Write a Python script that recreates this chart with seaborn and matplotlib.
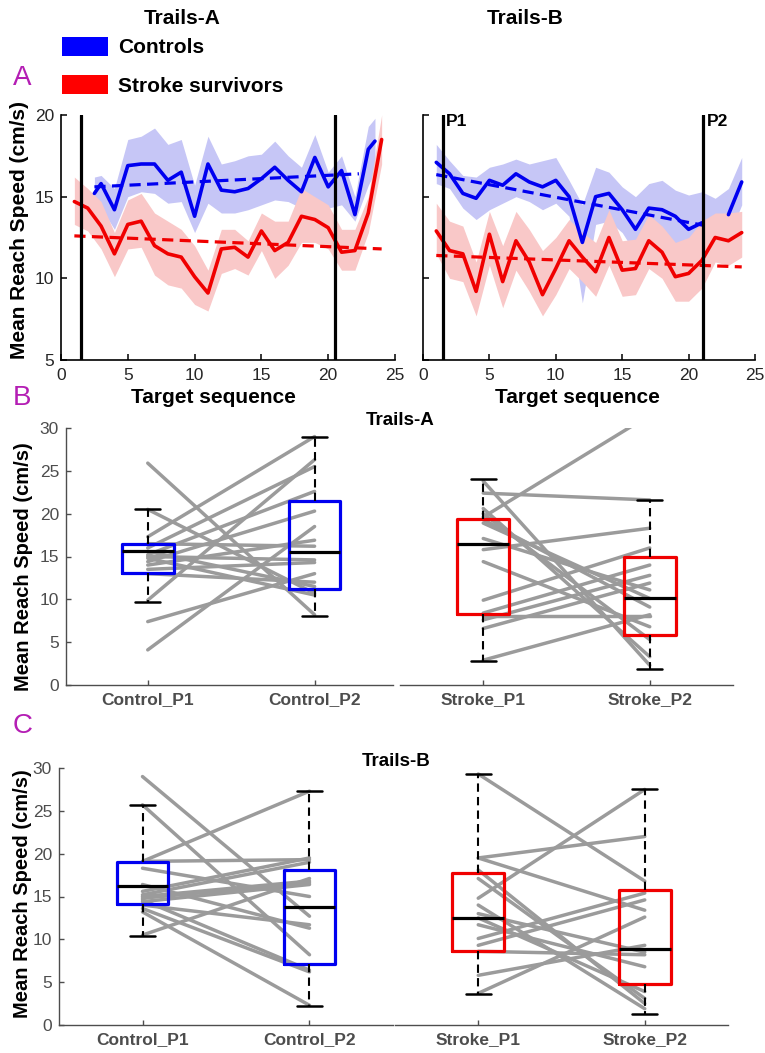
import numpy as np
import pandas as pd
import matplotlib
matplotlib.use("Agg")
import matplotlib.pyplot as plt
import seaborn as sns
from matplotlib.patches import Patch

# ---------------- Panel A data: Trails-A ----------------
ta_ctrl_x = [2.5, 3, 4, 5, 6, 7, 8, 9, 10, 11, 12, 13, 14, 15, 16, 17, 18, 19, 20, 21, 22, 23, 23.5]
ta_ctrl_mean = [15.2, 15.8, 14.2, 16.9, 17.0, 17.0, 16.0, 16.5, 13.8, 17.0, 15.4, 15.3, 15.5, 16.1,
                16.8, 16.0, 15.3, 17.4, 15.6, 16.6, 13.9, 17.9, 18.4]
ta_ctrl_hi = [16.2, 16.3, 15.5, 18.5, 18.7, 19.2, 18.2, 18.5, 15.7, 18.7, 17.0, 17.2, 17.5, 17.6,
              18.4, 17.5, 16.8, 18.8, 16.5, 17.5, 15.0, 19.3, 19.8]
ta_ctrl_lo = [14.6, 14.3, 13.0, 15.0, 15.3, 15.2, 14.6, 14.7, 12.8, 14.6, 14.0, 14.0, 14.2, 14.5,
              14.8, 14.7, 14.3, 14.8, 14.3, 14.5, 13.5, 15.7, 16.5]
ta_ctrl_trend_x = [2.5, 22.3]
ta_ctrl_trend_y = [15.6, 16.4]

ta_str_x = list(range(1, 25))
ta_str_mean = [14.7, 14.3, 13.2, 11.5, 13.3, 13.5, 12.0, 11.5, 11.3, 10.1, 9.1, 11.8, 11.9, 11.3,
               12.9, 11.7, 12.2, 13.8, 13.6, 13.1, 11.6, 11.7, 14.0, 18.5]
ta_str_hi = [16.2, 15.5, 14.7, 12.8, 14.8, 15.2, 14.0, 13.5, 13.0, 12.0, 10.5, 13.0, 13.0, 12.3,
             14.0, 13.5, 13.5, 15.5, 15.0, 14.5, 13.0, 13.0, 15.0, 20.0]
ta_str_lo = [13.3, 12.9, 11.8, 10.1, 11.8, 11.9, 10.2, 9.6, 9.4, 8.4, 8.0, 10.3, 10.6, 10.2,
             11.7, 10.0, 10.8, 12.2, 12.2, 11.8, 10.5, 10.5, 12.8, 17.0]
ta_str_trend_x = [1, 24]
ta_str_trend_y = [12.6, 11.8]
ta_markers = [1.5, 20.5]

# ---------------- Panel A data: Trails-B ----------------
tb_x = list(range(1, 25))
tb_ctrl_mean = [17.1, 16.4, 15.2, 14.9, 16.0, 15.7, 16.4, 15.9, 15.6, 16.0, 15.0, 12.2, 15.0, 15.2,
                14.2, 13.0, 14.3, 14.2, 13.8, 13.0, 13.4, np.nan, 13.9, 15.9]
tb_ctrl_hi = [18.2, 17.2, 16.3, 16.2, 16.8, 17.0, 17.3, 17.0, 17.2, 17.4, 16.0, 14.5, 16.8, 16.5,
              15.6, 15.0, 15.8, 16.0, 15.4, 15.1, 15.3, 14.9, 15.5, 17.4]
tb_ctrl_lo = [15.8, 15.5, 14.3, 13.6, 14.2, 14.6, 15.0, 14.7, 14.2, 14.6, 13.8, 8.5, 13.3, 13.5,
              12.8, 11.5, 12.6, 12.6, 12.0, 11.8, 12.0, 11.8, 12.5, 14.5]
tb_ctrl_trend_x = [1, 21.1]
tb_ctrl_trend_y = [16.35, 13.25]
tb_str_mean = [12.9, 11.7, 11.5, 9.2, 12.7, 9.8, 12.3, 11.0, 9.0, 10.6, 12.3, 11.3, 10.4, 12.5,
               10.5, 10.6, 12.3, 11.6, 10.1, 10.3, 11.1, 12.5, 12.3, 12.8]
tb_str_hi = [14.6, 13.5, 13.2, 11.0, 14.1, 12.0, 14.1, 13.0, 11.7, 12.5, 13.6, 12.8, 12.2, 14.2,
             12.3, 12.4, 13.9, 13.2, 12.2, 12.5, 13.5, 14.0, 14.0, 14.1]
tb_str_lo = [11.5, 10.0, 9.8, 7.7, 10.8, 8.2, 10.5, 9.2, 7.7, 9.0, 10.6, 9.8, 8.9, 10.8,
             8.9, 9.0, 10.6, 10.0, 8.6, 8.6, 9.4, 11.0, 10.8, 11.3]
tb_str_trend_x = [1, 24]
tb_str_trend_y = [11.4, 10.7]
tb_markers = [1.5, 21.1]
marker_labels = ["P1", "P2"]

# ---------------- Panel B data (Trails-A, per subject) ----------------
ctrl_labels = ["Control_P1", "Control_P2"]
str_labels = ["Stroke_P1", "Stroke_P2"]
B_ctrl_p1 = [25.9, 20.5, 17.3, 16.5, 16.0, 15.6, 15.2, 15.0, 14.8, 14.4, 14.0, 13.5, 13.0, 9.9, 7.4, 4.1]
B_ctrl_p2 = [8.2, 10.7, 29.0, 16.2, 25.5, 11.5, 22.6, 14.6, 10.5, 20.3, 16.9, 14.3, 12.0, 26.3, 13.0, 18.5]
B_str_p1 = [23.8, 22.4, 20.6, 20.0, 19.6, 19.3, 18.9, 17.1, 15.8, 14.4, 9.9, 8.4, 8.0, 7.6, 6.6, 2.9]
B_str_p2 = [2.3, 21.6, 3.3, 5.3, 31.5, 9.1, 10.1, 11.1, 18.3, 6.8, 16.0, 14.0, 8.0, 12.8, 11.9, 8.2]
# box stats: [whislo, q1, med, q3, whishi]
B_ctrl_box = [[9.7, 13.05, 15.6, 16.5, 20.5], [8.0, 11.2, 15.5, 21.5, 29.0]]
B_str_box = [[2.8, 8.3, 16.5, 19.4, 24.0], [1.9, 5.8, 10.2, 15.0, 21.6]]

# ---------------- Panel C data (Trails-B, per subject) ----------------
C_ctrl_p1 = [29.0, 25.7, 19.1, 19.1, 18.3, 16.4, 15.6, 15.0, 14.8, 14.6, 14.4, 14.0, 13.6, 13.2, 10.5, 15.2]
C_ctrl_p2 = [12.7, 8.2, 27.3, 19.3, 15.0, 11.3, 19.5, 16.8, 16.6, 6.4, 16.4, 11.7, 6.2, 2.3, 17.1, 19.0]
C_str_p1 = [29.3, 19.5, 19.5, 18.1, 17.1, 14.8, 14.0, 12.5, 11.7, 10.1, 9.3, 8.6, 5.8, 3.7, 13.0]
C_str_p2 = [16.8, 22.0, 13.4, 2.5, 3.1, 27.5, 1.9, 3.9, 6.8, 15.4, 14.6, 8.2, 9.3, 12.6, 8.5]
C_ctrl_box = [[10.4, 14.1, 16.2, 19.0, 25.7], [2.2, 7.1, 13.8, 18.1, 27.3]]
C_str_box = [[3.6, 8.6, 12.5, 17.8, 29.3], [1.3, 4.8, 8.9, 15.8, 27.5]]

# ---------------- Style ----------------
sns.set_style("ticks")
plt.rcParams["font.family"] = ["Liberation Sans", "DejaVu Sans"]
plt.rcParams["text.color"] = "black"
plt.rcParams["axes.labelcolor"] = "black"

BLUE = "#0000f0"
RED = "#f00000"
BLUE_F = "#c6c6f6"
RED_F = "#f9c8c8"
GRAY = "#9b9b9b"
MAG = "#b41eb4"
DASH = (0, (3.5, 2))

W, H = 765, 1053
fig = plt.figure(figsize=(W / 100, H / 100), dpi=100)


def rect(l, t, w, h):
    return [l / W, 1 - (t + h) / H, w / W, h / H]


def draw_series(ax, x, mean, lo, hi, trend_x, trend_y, line_c, fill_c, zf):
    ax.fill_between(x, lo, hi, color=fill_c, lw=0, zorder=zf)
    m = np.asarray(mean, dtype=float)
    seg = np.cumsum(np.isnan(m))
    df = pd.DataFrame({"x": x, "y": m, "seg": seg}).dropna()
    sns.lineplot(data=df, x="x", y="y", units="seg", estimator=None, color=line_c,
                 lw=2.6, ax=ax, legend=False, zorder=4, sort=False)
    sns.lineplot(x=trend_x, y=trend_y, color=line_c, lw=2.3, linestyle=DASH,
                 ax=ax, legend=False, zorder=3)


def style_A(ax, show_y):
    ax.set_xlim(0, 25)
    ax.set_ylim(5, 20)
    ax.set_xticks(range(0, 26, 5))
    ax.set_yticks(range(5, 21, 5))
    for s in ["top", "right"]:
        ax.spines[s].set_visible(False)
    for s in ["left", "bottom"]:
        ax.spines[s].set_color("black")
        ax.spines[s].set_linewidth(1.2)
    ax.tick_params(direction="in", length=4, width=1.1, color="black",
                   labelsize=12.5, labelcolor="#262626", pad=6)
    ax.tick_params(axis="y", pad=5)
    if not show_y:
        ax.tick_params(labelleft=False)
    ax.set_xlabel("Target sequence", fontsize=15, fontweight="bold", color="black")
    ax.set_ylabel("")


# ---- Panel A left (Trails-A)
axA1 = fig.add_axes(rect(61, 115, 334, 245))
draw_series(axA1, ta_ctrl_x, ta_ctrl_mean, ta_ctrl_lo, ta_ctrl_hi, ta_ctrl_trend_x, ta_ctrl_trend_y,
            BLUE, BLUE_F, 1)
draw_series(axA1, ta_str_x, ta_str_mean, ta_str_lo, ta_str_hi, ta_str_trend_x, ta_str_trend_y,
            RED, RED_F, 1.5)
for xv in ta_markers:
    axA1.axvline(xv, color="black", lw=2.3, zorder=5)
style_A(axA1, True)
axA1.set_ylabel("Mean Reach Speed (cm/s)", fontsize=15, fontweight="bold", color="black")
axA1.yaxis.set_label_coords(-0.095, 0.53)
axA1.xaxis.set_label_coords(0.455, -0.115)

# ---- Panel A right (Trails-B)
axA2 = fig.add_axes(rect(423, 115, 332, 245))
draw_series(axA2, tb_x, tb_ctrl_mean, tb_ctrl_lo, tb_ctrl_hi, tb_ctrl_trend_x, tb_ctrl_trend_y,
            BLUE, BLUE_F, 1)
draw_series(axA2, tb_x, tb_str_mean, tb_str_lo, tb_str_hi, tb_str_trend_x, tb_str_trend_y,
            RED, RED_F, 1.5)
for xv, lab in zip(tb_markers, marker_labels):
    axA2.axvline(xv, color="black", lw=2.3, zorder=5)
    axA2.text(xv + 0.25, 19.35, lab, fontsize=12.5, fontweight="bold", ha="left",
              va="baseline", zorder=6, color="black")
style_A(axA2, False)
axA2.xaxis.set_label_coords(0.464, -0.115)


# ---- Box panels
def box_panel(ax, p1, p2, box, labels, color, xlim, show_y):
    n = len(p1)
    df = pd.DataFrame({
        "subject": list(range(n)) * 2,
        "pos": [1] * n + [2] * n,
        "val": list(p1) + list(p2),
    })
    sns.lineplot(data=df, x="pos", y="val", units="subject", estimator=None,
                 color=GRAY, lw=2.5, ax=ax, legend=False, zorder=2)
    stats = [dict(whislo=b[0], q1=b[1], med=b[2], q3=b[3], whishi=b[4], fliers=[])
             for b in box]
    ax.bxp(stats, positions=[1, 2], widths=0.31, showfliers=False, manage_ticks=False,
           boxprops=dict(color=color, lw=2.3),
           medianprops=dict(color="black", lw=2.3),
           whiskerprops=dict(color="black", lw=1.5, linestyle=(0, (4, 2.5))),
           capprops=dict(color="black", lw=1.8), capwidths=0.15, zorder=3)
    ax.set_xlim(*xlim)
    ax.set_ylim(0, 30)
    ax.set_xticks([1, 2])
    ax.set_xticklabels(labels, fontsize=13, fontweight="bold", color="#4d4d4d")
    ax.set_yticks(range(0, 31, 5))
    ax.set_xlabel("")
    ax.set_ylabel("")
    for s in ["top", "right"]:
        ax.spines[s].set_visible(False)
    ax.spines["bottom"].set_color("#4d4d4d")
    ax.spines["left"].set_color("#4d4d4d")
    ax.spines["bottom"].set_linewidth(1.0)
    ax.spines["left"].set_linewidth(1.0)
    ax.tick_params(direction="in", length=3.5, width=1, color="#4d4d4d",
                   labelsize=12.5, labelcolor="#4d4d4d", pad=5)
    if not show_y:
        ax.spines["left"].set_visible(False)
        ax.tick_params(axis="y", left=False, labelleft=False)


axB1 = fig.add_axes(rect(66, 428, 327, 257))
box_panel(axB1, B_ctrl_p1, B_ctrl_p2, B_ctrl_box, ctrl_labels, BLUE, (0.51, 2.47), True)
axB1.set_ylabel("Mean Reach Speed (cm/s)", fontsize=14.5, fontweight="bold", color="black")
axB1.yaxis.set_label_coords(-0.1, 0.46)
axB2 = fig.add_axes(rect(400, 428, 333, 257))
box_panel(axB2, B_str_p1, B_str_p2, B_str_box, str_labels, RED, (0.5, 2.5), False)

axC1 = fig.add_axes(rect(59, 768, 334, 257))
box_panel(axC1, C_ctrl_p1, C_ctrl_p2, C_ctrl_box, ctrl_labels, BLUE, (0.5, 2.5), True)
axC1.set_ylabel("Mean Reach Speed (cm/s)", fontsize=14.5, fontweight="bold", color="black")
axC1.yaxis.set_label_coords(-0.08, 0.51)
axC2 = fig.add_axes(rect(395, 768, 333, 257))
box_panel(axC2, C_str_p1, C_str_p2, C_str_box, str_labels, RED, (0.5, 2.5), False)

# ---- Figure texts
fig.text(182 / W, 1 - 18 / H, "Trails-A", ha="center", va="center", fontsize=15,
         fontweight="bold", color="black")
fig.text(525 / W, 1 - 18 / H, "Trails-B", ha="center", va="center", fontsize=15,
         fontweight="bold", color="black")
fig.text(400 / W, 1 - 420 / H, "Trails-A", ha="center", va="center", fontsize=13.5,
         fontweight="bold", color="black")
fig.text(396 / W, 1 - 762 / H, "Trails-B", ha="center", va="center", fontsize=13.5,
         fontweight="bold", color="black")
for lab, yb in [("A", 85), ("B", 405), ("C", 733)]:
    fig.text(13 / W, 1 - yb / H, lab, ha="left", va="baseline", fontsize=20, color=MAG)

leg = fig.legend(handles=[Patch(facecolor="#0000ff", edgecolor="none"),
                          Patch(facecolor="#ff0000", edgecolor="none")],
                 labels=["Controls", "Stroke survivors"], loc="upper left",
                 bbox_to_anchor=(62 / W, 1 - 37 / H), frameon=False,
                 prop=dict(weight="bold", size=15), handlelength=2.2, handleheight=1.0,
                 handletextpad=0.5, labelspacing=0.85, borderpad=0, borderaxespad=0)
for t in leg.get_texts():
    t.set_color("black")

fig.savefig("out.png", dpi=100)
